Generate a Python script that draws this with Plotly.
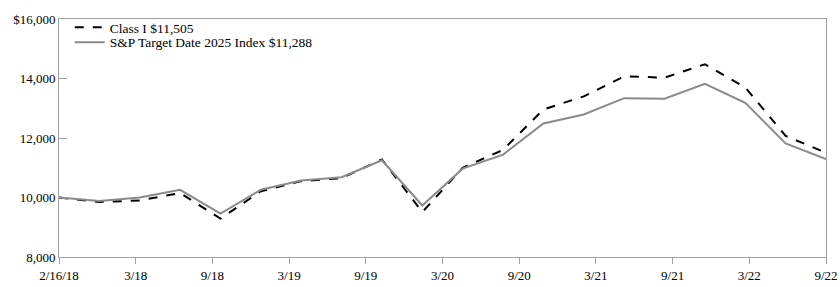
import plotly.graph_objects as go
import numpy as np

class_i = [10000, 9850, 9900, 10150, 9290, 10210, 10550, 10650, 11280, 9510,
           11000, 11600, 12960, 13400, 14070, 14030, 14480, 13700, 12070, 11505]
index_2025 = [10000, 9880, 10000, 10260, 9460, 10260, 10570, 10680, 11250, 9730,
              10970, 11440, 12490, 12790, 13340, 13320, 13820, 13180, 11820, 11288]
tick_labels = ["2/16/18", "3/18", "9/18", "3/19", "9/19", "3/20", "9/20",
               "3/21", "9/21", "3/22", "9/22"]
y_tick_vals = [8000, 10000, 12000, 14000, 16000]
y_tick_text = ["8,000", "10,000", "12,000", "14,000", "$16,000"]
names = ["Class I $11,505", "S&P Target Date 2025 Index $11,288"]

x = list(range(len(class_i)))
tick_pos = np.linspace(0, len(class_i) - 1, len(tick_labels))

fig = go.Figure()
fig.add_trace(go.Scatter(x=x, y=class_i, mode="lines", name=names[0], legend="legend",
                         line=dict(color="#000000", width=2, dash="dash")))
fig.add_trace(go.Scatter(x=x, y=index_2025, mode="lines", name=names[1], legend="legend2",
                         line=dict(color="#8a8a8a", width=2)))

font = dict(family="Liberation Serif, Times New Roman, serif", size=13, color="#000000")
leg_font = dict(family="Liberation Serif, Times New Roman, serif", size=13.5, color="#000000")
leg_common = dict(x=0.014, xanchor="left", yanchor="top",
                  bgcolor="rgba(0,0,0,0)", borderwidth=0, font=leg_font)
fig.update_layout(
    width=840, height=287,
    margin=dict(l=59, r=14, t=17, b=30),
    paper_bgcolor="white", plot_bgcolor="white",
    font=font,
    showlegend=True,
    legend=dict(y=1.029, **leg_common),
    legend2=dict(y=0.967, **leg_common),
    xaxis=dict(range=[0, len(class_i) - 1], tickvals=list(tick_pos), ticktext=tick_labels,
               showgrid=False, zeroline=False, showline=True, linecolor="#a0a0a0",
               linewidth=1, mirror=True, ticks="outside", ticklen=6, tickcolor="#a0a0a0",
               tickfont=font, automargin=False),
    yaxis=dict(range=[8000, 16000], tickvals=y_tick_vals, ticktext=y_tick_text,
               showgrid=False, zeroline=False, showline=True, linecolor="#a0a0a0",
               linewidth=1, mirror=True, ticks="inside", ticklen=8, tickcolor="#a0a0a0",
               tickfont=font, automargin=False),
)
fig.write_html("out.html")
